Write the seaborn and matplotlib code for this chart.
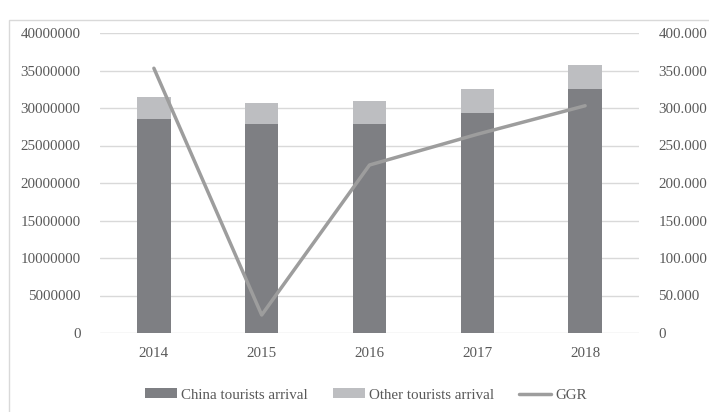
import matplotlib
matplotlib.use("Agg")
import matplotlib.pyplot as plt
from matplotlib.patches import Patch, Rectangle
from matplotlib.lines import Line2D
from matplotlib.ticker import FuncFormatter
import numpy as np
import pandas as pd
import seaborn as sns

years = ["2014", "2015", "2016", "2017", "2018"]
china_arrivals = [28500000, 27900000, 27900000, 29400000, 32600000]
other_arrivals = [3000000, 2800000, 3000000, 3200000, 3200000]
ggr = [353.0, 24.0, 224.0, 265.0, 303.0]

total_arrivals = [c + o for c, o in zip(china_arrivals, other_arrivals)]
df = pd.DataFrame({"year": years, "china": china_arrivals, "total": total_arrivals, "ggr": ggr})

sns.set_theme(style="white")
plt.rcParams["font.family"] = ["Liberation Serif", "DejaVu Serif"]

DARK = "#7e7f83"
LIGHT = "#bdbec1"
LINE = "#9d9d9d"
GRID = "#d9d9d9"
TEXT = "#595959"

fig = plt.figure(figsize=(7.09, 4.12), dpi=100)
ax = fig.add_axes([100 / 709, 1 - 333 / 412, 539 / 709, 300 / 412])

# stacked bars: total (other on top) drawn first, China portion over it
sns.barplot(data=df, x="year", y="total", color=LIGHT, width=0.31, saturation=1,
            linewidth=0, edgecolor="none", ax=ax)
sns.barplot(data=df, x="year", y="china", color=DARK, width=0.31, saturation=1,
            linewidth=0, edgecolor="none", ax=ax)

ax.set_ylim(0, 40000000)
ax.set_yticks(np.arange(0, 40000001, 5000000))
ax.yaxis.set_major_formatter(FuncFormatter(lambda v, p: f"{int(v)}"))
ax.set_xlim(-0.5, 4.5)
ax.grid(axis="y", color=GRID, linewidth=1)
ax.set_axisbelow(True)
ax.set_xlabel("")
ax.set_ylabel("")
for s in ax.spines.values():
    s.set_visible(False)
ax.tick_params(axis="both", length=0, labelsize=10.8, colors=TEXT)
ax.tick_params(axis="y", pad=14)
ax.tick_params(axis="x", pad=10)

ax2 = ax.twinx()
sns.lineplot(x=np.arange(len(years)), y=df["ggr"], color=LINE, linewidth=2.5, ax=ax2)
ax2.set_ylim(0, 400)
ax2.set_yticks(np.arange(0, 401, 50))
ax2.yaxis.set_major_formatter(FuncFormatter(lambda v, p: "0" if v == 0 else f"{v:.3f}"))
ax2.set_ylabel("")
for s in ax2.spines.values():
    s.set_visible(False)
ax2.tick_params(axis="y", length=0, labelsize=10.8, colors=TEXT, pad=14)
ax2.grid(False)
ax.set_xlim(-0.5, 4.5)

handles = [
    Patch(facecolor=DARK, edgecolor="none"),
    Patch(facecolor=LIGHT, edgecolor="none"),
    Line2D([], [], color=LINE, linewidth=2.5),
]
labels = ["China tourists arrival", "Other tourists arrival", "GGR"]
fig.legend(handles, labels, loc="center", bbox_to_anchor=(366 / 709, 1 - 395 / 412), ncol=3,
           frameon=False, fontsize=10.8, labelcolor=TEXT, handlelength=2.15,
           handleheight=0.6, handletextpad=0.27, columnspacing=1.65)

# chart frame
fig.patches.append(Rectangle((9 / 709, -0.1), 1.2, 1.1 - 20 / 412, transform=fig.transFigure,
                             fill=False, edgecolor=GRID, linewidth=1))

fig.savefig("out.png", dpi=100)
